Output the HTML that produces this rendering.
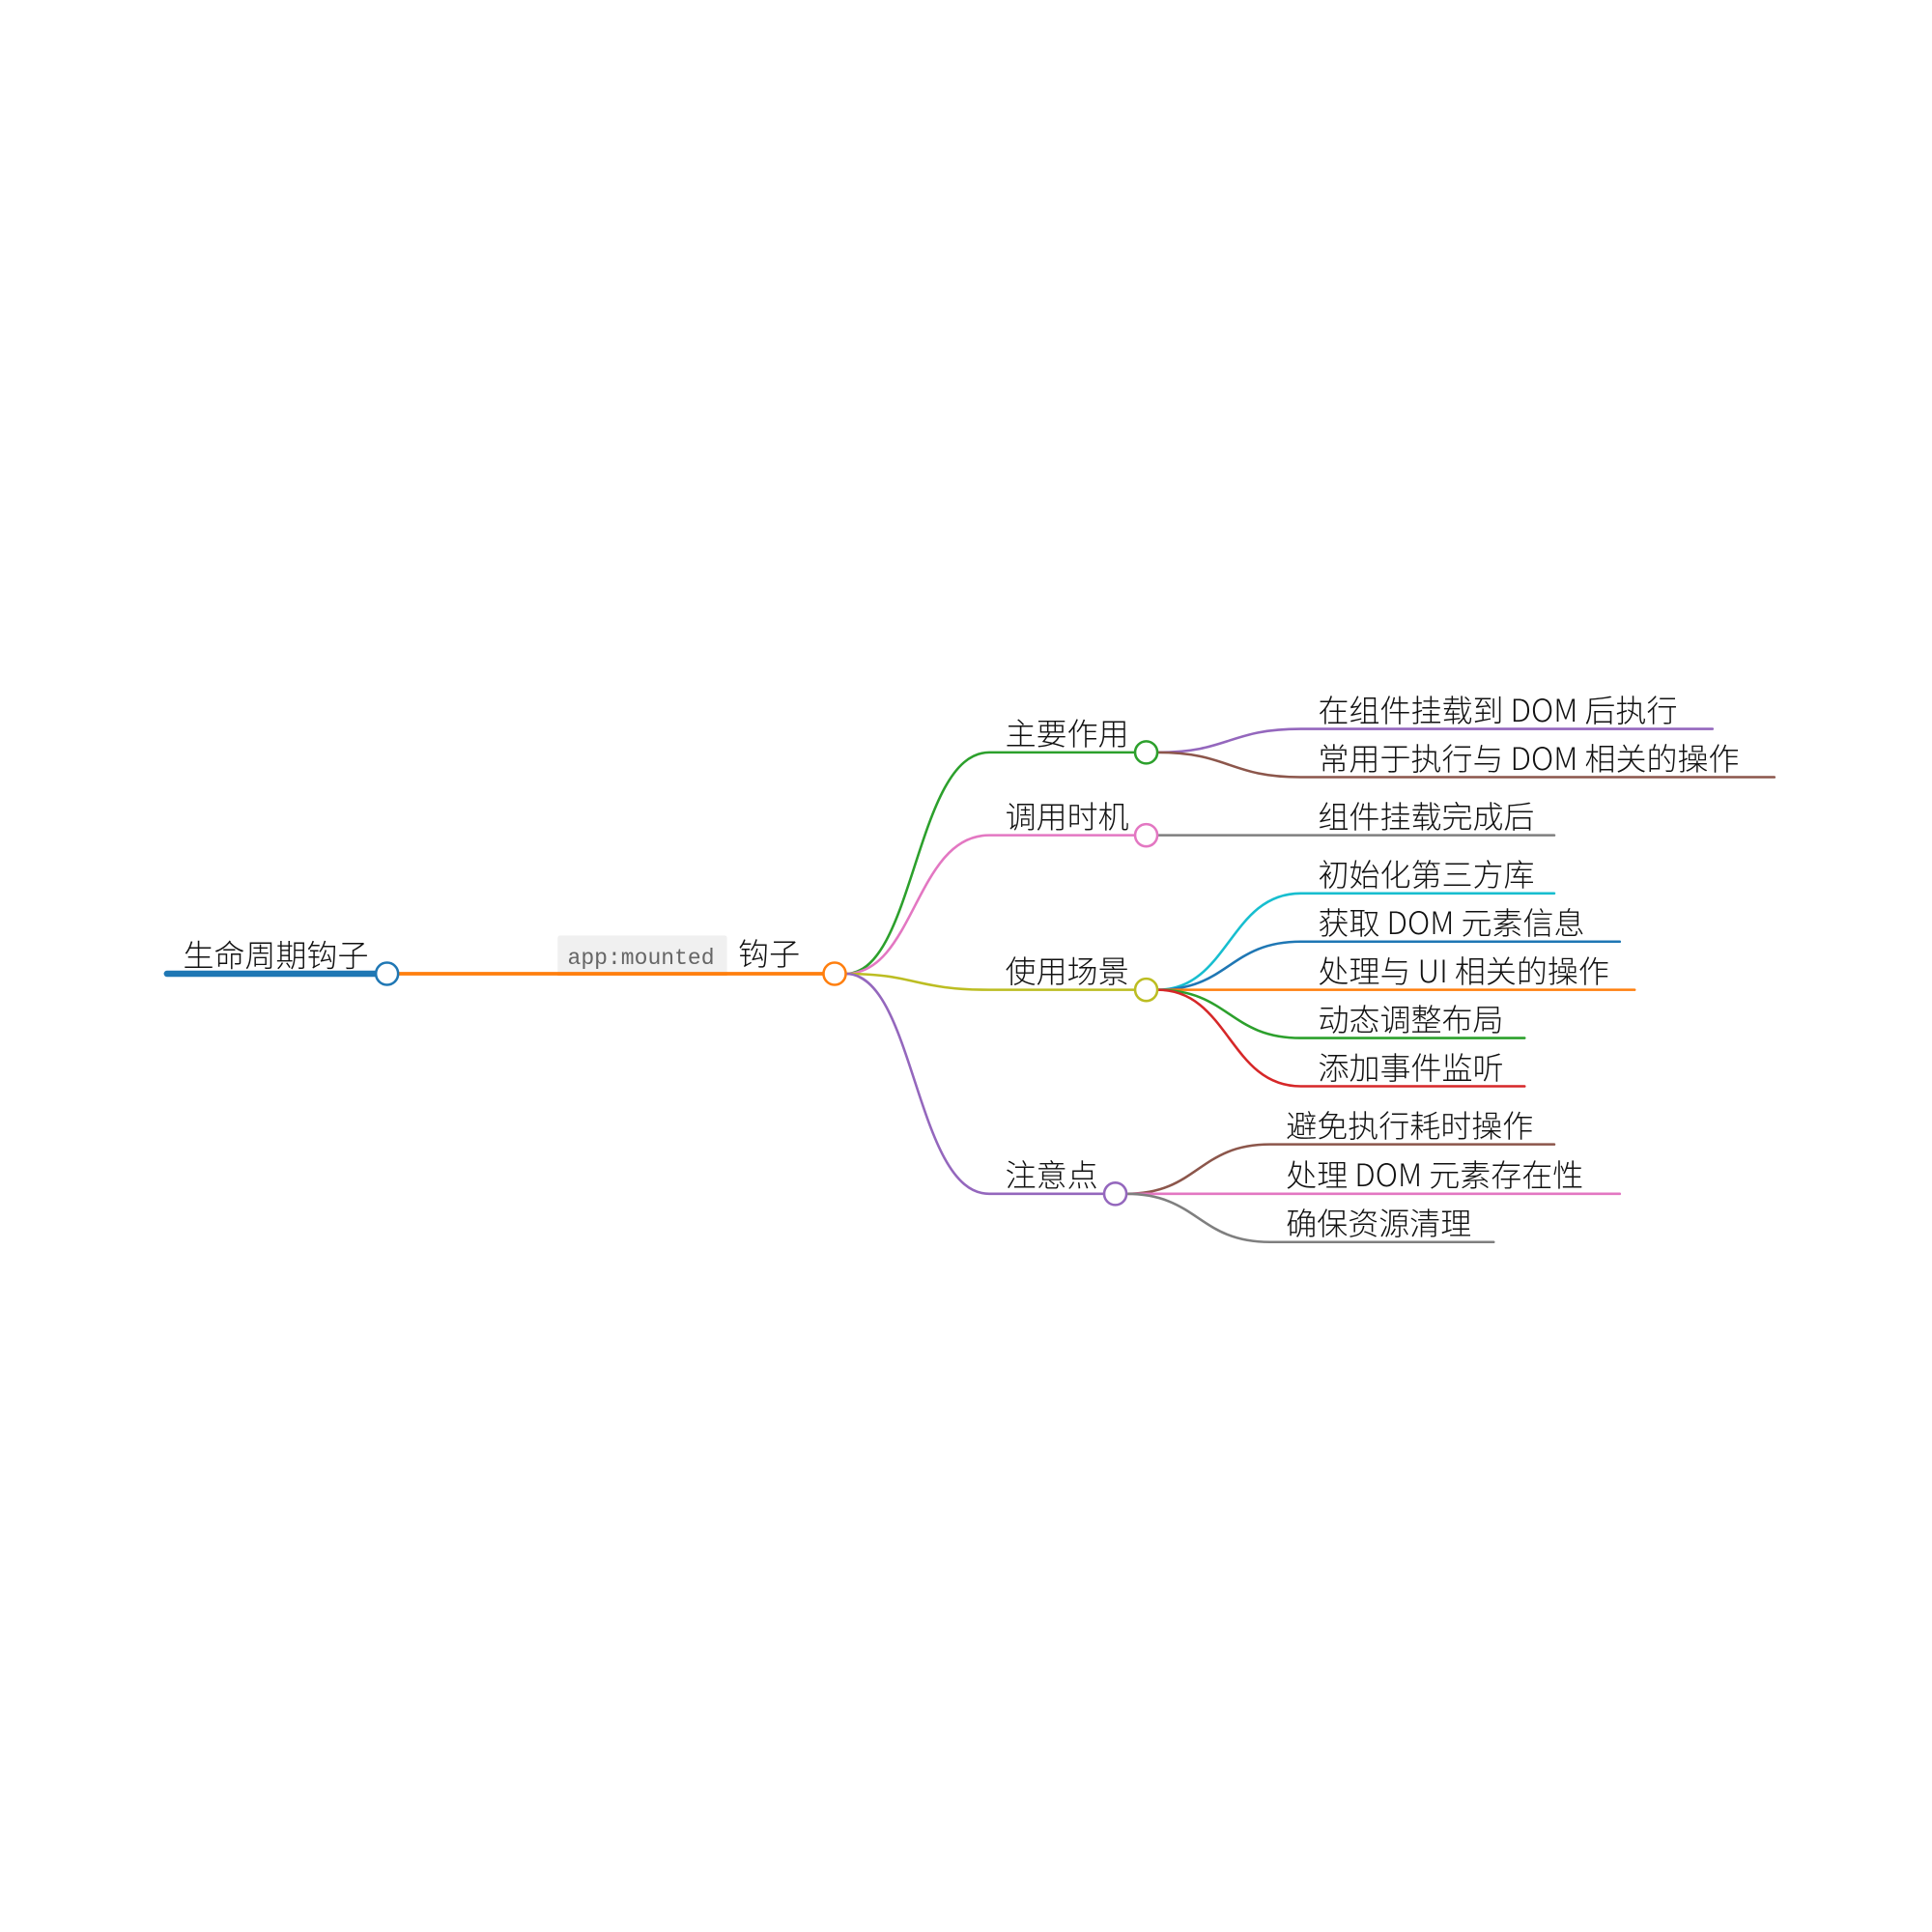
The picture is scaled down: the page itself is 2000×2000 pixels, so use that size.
<!DOCTYPE html>
<html><head><meta charset="utf-8"><style>
html,body{margin:0;padding:0;background:#fff;}
svg{display:block}
text{font-family:"Noto Sans CJK SC","Liberation Sans",sans-serif;font-weight:300;font-size:25px;fill:#111;}
.mono{font-family:"Liberation Mono",monospace;font-weight:400;font-size:18px;fill:#666;}
</style></head><body>
<svg width="2000" height="2000" viewBox="0 0 1562.5 1562.5" xmlns="http://www.w3.org/2000/svg">
<g transform="translate(0,-2.5)">
<g fill="none" stroke-linecap="round">
<line x1="135" y1="790" x2="304" y2="790" stroke="#1f77b4" stroke-width="5"/>
<path d="M322 790 L666 790" stroke="#ff7f0e" stroke-width="3"/>
<path d="M684 790 C740 790 740 611 800 611 L918 611" stroke="#2ca02c" stroke-width="2"/>
<path d="M684 790 C740 790 740 678 800 678 L918 678" stroke="#e377c2" stroke-width="2"/>
<path d="M684 790 C740 790 740 803 800 803 L918 803" stroke="#bcbd22" stroke-width="2"/>
<path d="M684 790 C740 790 740 968 800 968 L893 968" stroke="#9467bd" stroke-width="2"/>
<path d="M936 611 C994 611 994 592 1052 592 L1385 592" stroke="#9467bd" stroke-width="2"/>
<path d="M936 611 C994 611 994 631 1052 631 L1435 631" stroke="#8c564b" stroke-width="2"/>
<path d="M936 678 L1257 678" stroke="#7f7f7f" stroke-width="2"/>
<path d="M936 803 C994 803 994 725 1052 725 L1257 725" stroke="#17becf" stroke-width="2"/>
<path d="M936 803 C994 803 994 764 1052 764 L1310 764" stroke="#1f77b4" stroke-width="2"/>
<path d="M936 803 L1322 803" stroke="#ff7f0e" stroke-width="2"/>
<path d="M936 803 C994 803 994 842 1052 842 L1233 842" stroke="#2ca02c" stroke-width="2"/>
<path d="M936 803 C994 803 994 881 1052 881 L1233 881" stroke="#d62728" stroke-width="2"/>
<path d="M911 968 C969 968 969 928 1027 928 L1257 928" stroke="#8c564b" stroke-width="2"/>
<path d="M911 968 L1310 968" stroke="#e377c2" stroke-width="2"/>
<path d="M911 968 C969 968 969 1007 1027 1007 L1208 1007" stroke="#7f7f7f" stroke-width="2"/>
</g>
<rect x="451" y="759" width="137" height="31" rx="2" fill="#f0f0f0"/>
<line x1="451" y1="790" x2="588" y2="790" stroke="#ff7f0e" stroke-width="3"/>
<g fill="#fff" stroke-width="2">
<circle cx="313" cy="790" r="9" stroke="#1f77b4"/>
<circle cx="675" cy="790" r="9" stroke="#ff7f0e"/>
<circle cx="927" cy="611" r="9" stroke="#2ca02c"/>
<circle cx="927" cy="678" r="9" stroke="#e377c2"/>
<circle cx="927" cy="803" r="9" stroke="#bcbd22"/>
<circle cx="902" cy="968" r="9" stroke="#9467bd"/>
</g>
<text x="148" y="784">生命周期钩子</text>
<text class="mono" x="459" y="782">app:mounted</text>
<text x="597" y="783">钩子</text>
<text x="813" y="605">主要作用</text>
<text x="813" y="672">调用时机</text>
<text x="813" y="797">使用场景</text>
<text x="813" y="962">注意点</text>
<text x="1066" y="586">在组件挂载到 DOM 后执行</text>
<text x="1066" y="625">常用于执行与 DOM 相关的操作</text>
<text x="1066" y="672">组件挂载完成后</text>
<text x="1066" y="719">初始化第三方库</text>
<text x="1066" y="758">获取 DOM 元素信息</text>
<text x="1066" y="797">处理与 UI 相关的操作</text>
<text x="1066" y="836">动态调整布局</text>
<text x="1066" y="875">添加事件监听</text>
<text x="1040" y="922">避免执行耗时操作</text>
<text x="1040" y="962">处理 DOM 元素存在性</text>
<text x="1040" y="1001">确保资源清理</text>
</g>
</svg>
</body></html>
